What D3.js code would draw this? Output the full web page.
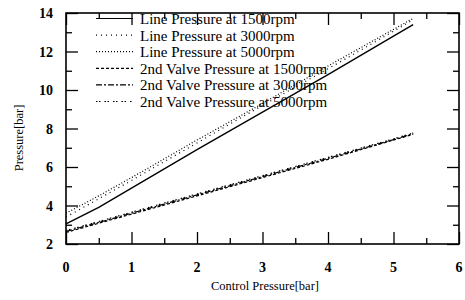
<!DOCTYPE html>
<html>
<head>
<meta charset="utf-8">
<script src="https://cdn.jsdelivr.net/npm/d3@7"></script>
<style>
  body { margin: 0; background: #fff; }
  svg { display: block; font-family: "Liberation Serif", "DejaVu Serif", serif; }
</style>
</head>
<body>
<svg id="chart" width="465" height="300"></svg>
<script>
const controlPressure = [0, 0.5, 1, 2, 3, 4, 5, 5.3];
const line1500 = [3.05, 3.9, 4.9, 6.9, 8.85, 10.8, 12.8, 13.4];
const line3000 = [3.4, 4.35, 5.3, 7.25, 9.2, 11.1, 13.05, 13.65];
const line5000 = [3.6, 4.5, 5.45, 7.4, 9.3, 11.25, 13.15, 13.72];
const valve1500 = [2.6, 3.08, 3.55, 4.5, 5.45, 6.4, 7.4, 7.7];
const valve3000 = [2.65, 3.12, 3.6, 4.55, 5.5, 6.45, 7.42, 7.73];
const valve5000 = [2.7, 3.17, 3.65, 4.6, 5.55, 6.5, 7.46, 7.77];
const seriesNames = [
  'Line Pressure at 1500rpm',
  'Line Pressure at 3000rpm',
  'Line Pressure at 5000rpm',
  '2nd Valve Pressure at 1500rpm',
  '2nd Valve Pressure at 3000rpm',
  '2nd Valve Pressure at 5000rpm'
];
const xTicks = [0, 1, 2, 3, 4, 5, 6];
const yTicks = [2, 4, 6, 8, 10, 12, 14];

const series = [line1500, line3000, line5000, valve1500, valve3000, valve5000];
const dashes = ['none', '1,4', '1,2', '3,2', '6,2,2,2', '1.5,1.5,1.5,4'];

const margin = { left: 66, right: 6, top: 13, bottom: 56 };
const width = 465, height = 300;

const svg = d3.select('#chart');

const x = d3.scaleLinear().domain([0, 6]).range([margin.left, width - margin.right]);
const y = d3.scaleLinear().domain([2, 14]).range([height - margin.bottom, margin.top]);

// frame ticks (inward, major + minor)
const addTicks = (axis, pos, values, len) => {
  svg.append('g')
    .attr('transform', pos)
    .call(axis.tickValues(values).tickSize(len).tickFormat(''))
    .call(g => g.select('.domain').remove())
    .call(g => g.selectAll('line').attr('stroke', '#000').attr('stroke-width', 1.3));
};
const xMinor = d3.range(0.5, 6, 1);
const yMinor = d3.range(3, 14, 2);
addTicks(d3.axisTop(x), `translate(0,${y(2)})`, xTicks, 12);
addTicks(d3.axisTop(x), `translate(0,${y(2)})`, xMinor, 6);
addTicks(d3.axisBottom(x), `translate(0,${y(14)})`, xTicks, 12);
addTicks(d3.axisBottom(x), `translate(0,${y(14)})`, xMinor, 6);
addTicks(d3.axisRight(y), `translate(${x(0)},0)`, yTicks, 12);
addTicks(d3.axisRight(y), `translate(${x(0)},0)`, yMinor, 6);
addTicks(d3.axisLeft(y), `translate(${x(6)},0)`, yTicks, 12);
addTicks(d3.axisLeft(y), `translate(${x(6)},0)`, yMinor, 6);

svg.append('rect')
  .attr('x', x(0)).attr('y', y(14))
  .attr('width', x(6) - x(0)).attr('height', y(2) - y(14))
  .attr('fill', 'none').attr('stroke', '#000').attr('stroke-width', 1.6);

// tick labels
svg.append('g').selectAll('text')
  .data(xTicks).enter().append('text')
  .attr('x', d => x(d)).attr('y', y(2) + 28)
  .attr('text-anchor', 'middle')
  .style('font-size', '14px').style('font-weight', 'bold')
  .text(d => d);

svg.append('g').selectAll('text')
  .data(yTicks).enter().append('text')
  .attr('x', x(0) - 13).attr('y', d => y(d) + 5)
  .attr('text-anchor', 'end')
  .style('font-size', '14px').style('font-weight', 'bold')
  .text(d => d);

// axis titles
svg.append('text')
  .attr('x', 265).attr('y', 290)
  .attr('text-anchor', 'middle')
  .style('font-size', '12.5px')
  .text('Control Pressure[bar]');

svg.append('text')
  .attr('transform', 'translate(23,138) rotate(-90)')
  .attr('text-anchor', 'middle')
  .style('font-size', '12.5px')
  .text('Pressure[bar]');

// data lines
const line = d3.line()
  .x((d, i) => x(controlPressure[i]))
  .y(d => y(d));

svg.append('g').selectAll('path')
  .data(series).enter().append('path')
  .attr('d', d => line(d))
  .attr('fill', 'none')
  .attr('stroke', '#000')
  .attr('stroke-width', (d, i) => i === 0 ? 1.4 : 1.2)
  .attr('stroke-dasharray', (d, i) => dashes[i]);

// legend
const legend = svg.append('g').attr('class', 'legend');
const rowY = i => 24 + i * 16.6;

legend.selectAll('line')
  .data(seriesNames).enter().append('line')
  .attr('x1', 96).attr('x2', 133)
  .attr('y1', (d, i) => rowY(i) - 5.5).attr('y2', (d, i) => rowY(i) - 5.5)
  .attr('stroke', '#000')
  .attr('stroke-width', 1.2)
  .attr('stroke-dasharray', (d, i) => dashes[i]);

legend.selectAll('text')
  .data(seriesNames).enter().append('text')
  .attr('x', 140).attr('y', (d, i) => rowY(i))
  .style('font-size', '15px')
  .text(d => d);
</script>
</body>
</html>
